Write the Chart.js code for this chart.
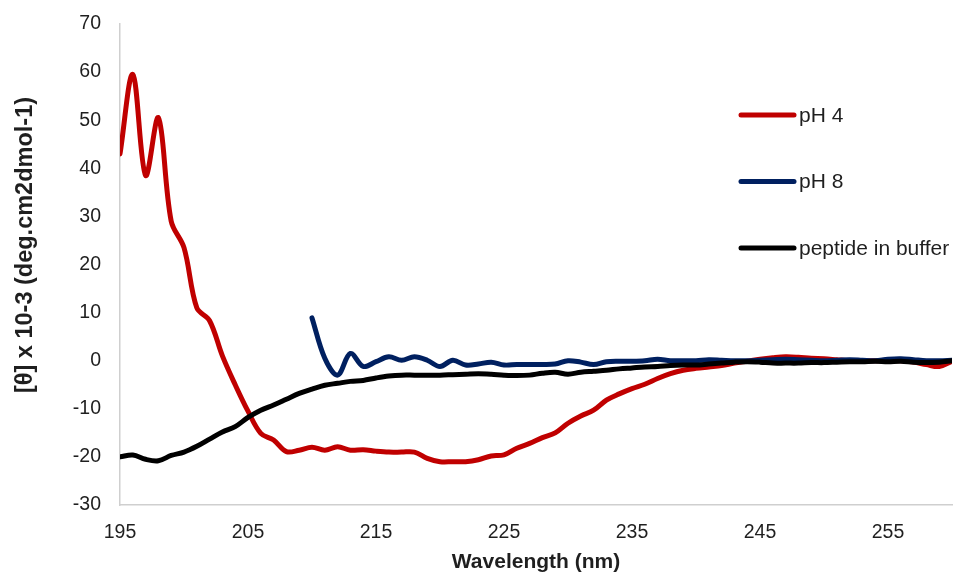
<!DOCTYPE html>
<html>
<head>
<meta charset="utf-8">
<title>CD spectra</title>
<script src="https://cdn.jsdelivr.net/npm/chart.js@4.4.1/dist/chart.umd.min.js"></script>
<style>
  html, body { margin: 0; padding: 0; background: #ffffff; }
  #wrap { position: relative; width: 954px; height: 575px; }
</style>
</head>
<body>
<div id="wrap"><canvas id="cd"></canvas></div>
<script>
// Wavelength (nm), 1 nm steps
const wavelengths = [
  195, 196, 197, 198, 199, 200, 201, 202, 203, 204,
  205, 206, 207, 208, 209, 210, 211, 212, 213, 214,
  215, 216, 217, 218, 219, 220, 221, 222, 223, 224,
  225, 226, 227, 228, 229, 230, 231, 232, 233, 234,
  235, 236, 237, 238, 239, 240, 241, 242, 243, 244,
  245, 246, 247, 248, 249, 250, 251, 252, 253, 254,
  255, 256, 257, 258, 259, 260
];

// Mean residue ellipticity [θ] x 10-3 (deg.cm2dmol-1)
const ph4 = [
  43, 59.5, 38.5, 50.5, 29, 23.5, 11, 8.3, 1.0, -5,
  -10.5, -15.1, -16.5, -18.9, -18.6, -18, -18.6, -17.9, -18.6, -18.5,
  -18.8, -19, -19, -19, -20.3, -21, -21, -21, -20.6, -19.8,
  -19.6, -18.2, -17.2, -16, -15, -13, -11.5, -10.3, -8.2, -6.9,
  -5.8, -4.9, -3.7, -2.7, -2, -1.6, -1.3, -1, -0.5, -0.1,
  0.3, 0.6, 0.8, 0.7, 0.5, 0.4, 0.2, 0, 0, 0,
  0.1, 0, -0.3, -0.8, -1.2, -0.1
];

const ph8 = [
  null, null, null, null, null, null, null, null, null, null,
  null, null, null, null, null, 8.9, 0.5, -3.0, 1.5, -1.2,
  -0.2, 0.8, 0.1, 0.8, 0.1, -1.2, 0.1, -0.9, -0.7, -0.3,
  -0.9, -0.8, -0.8, -0.8, -0.7, 0, -0.3, -0.8, -0.2, -0.1,
  -0.1, 0, 0.3, 0, 0, 0, 0.2, 0.1, 0, 0,
  0.1, 0.2, 0.3, 0.2, 0.1, 0, 0.1, 0.2, 0.1, 0,
  0.3, 0.4, 0.2, 0, 0, 0.1
];

const buffer = [
  -20, -19.6, -20.5, -20.8, -19.7, -19, -17.8, -16.3, -14.8, -13.7,
  -11.8, -10.3, -9.2, -8, -6.8, -5.9, -5.1, -4.7, -4.3, -4.1,
  -3.6, -3.2, -3.0, -3.0, -3.0, -3.0, -2.9, -2.8, -2.7, -2.8,
  -3.0, -3.1, -3.0, -2.6, -2.4, -2.8, -2.4, -2.2, -2.0, -1.7,
  -1.5, -1.3, -1.2, -1.0, -0.9, -0.9, -0.7, -0.5, -0.3, -0.2,
  -0.3, -0.5, -0.5, -0.5, -0.4, -0.4, -0.3, -0.2, -0.2, -0.1,
  -0.2, -0.1, -0.3, -0.4, -0.3, 0
];

const seriesNames = ['pH 4', 'pH 8', 'peptide in buffer'];
const xTickValues = [195, 205, 215, 225, 235, 245, 255];
const yTickValues = [-30, -20, -10, 0, 10, 20, 30, 40, 50, 60, 70];
const xTitle = 'Wavelength (nm)';
const yTitle = '[θ] x 10-3 (deg.cm2dmol-1)';

const FONT = "'Liberation Sans', Arial, Helvetica, sans-serif";
const TEXT = '#1f1f1f';
const AXIS = '#cfcfcf';

const points = arr => wavelengths.map((w, i) => ({ x: w, y: arr[i] }));

// Legend drawn as a vertical list inside the upper-right of the plot area
const sideLegend = {
  id: 'sideLegend',
  afterDatasetsDraw(chart) {
    const { ctx, chartArea } = chart;
    const x0 = chartArea.right - 211;
    const y0 = chartArea.top + 91;
    const gap = 66.5;
    chart.data.datasets.forEach((ds, i) => {
      const y = y0 + i * gap;
      ctx.save();
      ctx.strokeStyle = ds.borderColor;
      ctx.lineWidth = 5;
      ctx.lineCap = 'round';
      ctx.beginPath();
      ctx.moveTo(x0, y);
      ctx.lineTo(x0 + 53, y);
      ctx.stroke();
      ctx.fillStyle = TEXT;
      ctx.font = '21px ' + FONT;
      ctx.textBaseline = 'middle';
      ctx.textAlign = 'left';
      ctx.fillText(ds.label, x0 + 58, y + 1);
      ctx.restore();
    });
  }
};

// Rotated value-axis title, set a little above the plot's vertical centre
const valueTitle = {
  id: 'valueTitle',
  afterDraw(chart) {
    const { ctx, chartArea } = chart;
    ctx.save();
    ctx.translate(26, chartArea.top + 221);
    ctx.rotate(-Math.PI / 2);
    ctx.fillStyle = TEXT;
    ctx.font = 'bold 23.5px ' + FONT;
    ctx.textAlign = 'center';
    ctx.textBaseline = 'middle';
    ctx.fillText(yTitle, 0, 0);
    ctx.restore();
  }
};

const lineStyle = {
  borderWidth: 5,
  pointRadius: 0,
  pointHoverRadius: 0,
  tension: 0.35,
  borderCapStyle: 'round',
  borderJoinStyle: 'round',
  fill: false,
  spanGaps: false
};

new Chart(document.getElementById('cd'), {
  type: 'line',
  data: {
    datasets: [
      Object.assign({ label: seriesNames[0], data: points(ph4), borderColor: '#C00000', order: 2 }, lineStyle),
      Object.assign({ label: seriesNames[1], data: points(ph8), borderColor: '#002060', order: 1 }, lineStyle),
      Object.assign({ label: seriesNames[2], data: points(buffer), borderColor: '#000000', order: 0 }, lineStyle)
    ]
  },
  options: {
    responsive: true,
    maintainAspectRatio: false,
    animation: false,
    events: [],
    layout: { padding: { top: 24, right: 2, left: 0, bottom: 0 } },
    plugins: {
      legend: { display: false },
      tooltip: { enabled: false },
      title: { display: false }
    },
    scales: {
      x: {
        type: 'linear',
        min: 195,
        max: 260,
        afterBuildTicks(scale) {
          scale.ticks = xTickValues.map(v => ({ value: v }));
        },
        afterFit(scale) { scale.height = 70; },
        grid: { display: false, drawTicks: false },
        border: { display: true, color: AXIS, width: 1.5 },
        ticks: {
          color: TEXT,
          font: { family: FONT, size: 19.5 },
          padding: 16,
          maxRotation: 0,
          autoSkip: false
        },
        title: {
          display: true,
          text: xTitle,
          color: TEXT,
          font: { family: FONT, size: 21, weight: 'bold' },
          padding: { top: 0, bottom: 0 }
        }
      },
      y: {
        type: 'linear',
        min: -30,
        max: 70,
        afterBuildTicks(scale) {
          scale.ticks = yTickValues.map(v => ({ value: v }));
        },
        afterFit(scale) {
          scale.width = 120;
          scale.paddingTop = 0;
          scale.paddingBottom = 0;
        },
        grid: { display: false, drawTicks: false },
        border: { display: true, color: AXIS, width: 1.5 },
        ticks: {
          color: TEXT,
          font: { family: FONT, size: 19.5 },
          padding: 19
        },
        title: { display: false }
      }
    }
  },
  plugins: [sideLegend, valueTitle]
});
</script>
</body>
</html>
